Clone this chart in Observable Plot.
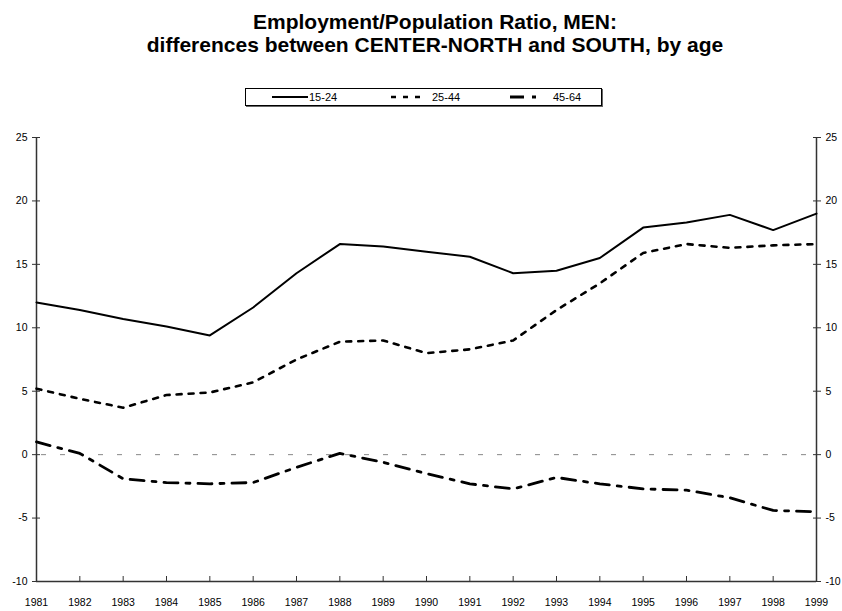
<!DOCTYPE html>
<html>
<head>
<meta charset="utf-8">
<script src="https://cdn.jsdelivr.net/npm/d3@7"></script>
<script src="https://cdn.jsdelivr.net/npm/@observablehq/plot@0.6"></script>
<style>
  body { margin: 0; background: #fff; font-family: "Liberation Sans", Arial, sans-serif; }
  #wrap { position: relative; width: 842px; height: 611px; overflow: hidden; }
  #title { position: absolute; top: 10px; left: 0; width: 870px; text-align: center;
           font-weight: bold; font-size: 21px; line-height: 23px; color: #000; }
  #legend { position: absolute; left: 245px; top: 88px; width: 355px; height: 16px;
            border: 1px solid #000; box-shadow: 1px 1px 0 #666; background: #fff; }
  .item { position: absolute; top: 0; height: 16px; display: flex; align-items: center;
          font-size: 11px; color: #000; }
  .item svg { display: block; }
  #chart { position: absolute; left: 0; top: 115px; }
</style>
</head>
<body>
<div id="wrap">
  <div id="title">Employment/Population Ratio, MEN:<br>differences between CENTER-NORTH and SOUTH, by age</div>
  <div id="legend"></div>
  <div id="chart"></div>
</div>
<script>
// Years on the horizontal axis
const years = [1981, 1982, 1983, 1984, 1985, 1986, 1987, 1988, 1989, 1990,
               1991, 1992, 1993, 1994, 1995, 1996, 1997, 1998, 1999];

// Employment/population ratio gap (Centre-North minus South), percentage points
const age15_24 = [12.0, 11.4, 10.7, 10.1, 9.4, 11.6, 14.3, 16.6, 16.4, 16.0,
                  15.6, 14.3, 14.5, 15.5, 17.9, 18.3, 18.9, 17.7, 19.0];
const age25_44 = [5.2, 4.4, 3.7, 4.7, 4.9, 5.7, 7.5, 8.9, 9.0, 8.0,
                  8.3, 9.0, 11.4, 13.5, 15.9, 16.6, 16.3, 16.5, 16.6];
const age45_64 = [1.0, 0.1, -1.9, -2.2, -2.3, -2.2, -1.0, 0.1, -0.6, -1.5,
                  -2.3, -2.7, -1.8, -2.3, -2.7, -2.8, -3.4, -4.4, -4.5];

const seriesNames = ["15-24", "25-44", "45-64"];
const yTicks = [-10, -5, 0, 5, 10, 15, 20, 25];

// Line styles for each age group
const styles = {
  "15-24": {strokeWidth: 2, dash: null},
  "25-44": {strokeWidth: 2.6, dash: "5,7"},
  "45-64": {strokeWidth: 2.8, dash: "14,8,4,8"}
};

const seriesValues = [age15_24, age25_44, age45_64];
const rows = seriesNames.flatMap((name, i) =>
  years.map((year, j) => ({year, value: seriesValues[i][j], group: name})));

// Legend
const legend = document.getElementById("legend");
const legendPos = [{left: 26, w: 36}, {left: 145, w: 30}, {left: 264, w: 32}];
seriesNames.forEach((name, i) => {
  const s = styles[name];
  const div = document.createElement("div");
  div.className = "item";
  div.style.left = legendPos[i].left + "px";
  const svg = d3.create("svg").attr("width", legendPos[i].w + 4).attr("height", 16);
  svg.append("line")
    .attr("x1", 0).attr("x2", legendPos[i].w).attr("y1", 8).attr("y2", 8)
    .attr("stroke", "#000").attr("stroke-width", s.strokeWidth)
    .attr("stroke-dasharray", s.dash);
  div.appendChild(svg.node());
  const span = document.createElement("span");
  span.textContent = name;
  span.style.marginLeft = (i === 0 ? -3 : 7) + "px";
  div.appendChild(span);
  legend.appendChild(div);
});

const chart = Plot.plot({
  width: 842,
  height: 496,
  marginTop: 22,
  marginBottom: 30,
  marginLeft: 36,
  marginRight: 26,
  style: {fontFamily: "'Liberation Sans', Arial, sans-serif", fontSize: "10.5px", color: "#000"},
  x: {domain: [1981, 1999]},
  y: {domain: [-10, 25]},
  marks: [
    // dashed zero reference line
    Plot.ruleY([0], {stroke: "#888", strokeWidth: 1, strokeDasharray: "5,14", strokeDashoffset: -5}),
    // axis lines
    Plot.ruleX([years[0], years[years.length - 1]], {stroke: "#333", strokeWidth: 1.5}),
    Plot.ruleY([yTicks[0]], {stroke: "#333", strokeWidth: 1.5}),
    // y axes, both sides
    Plot.axisY(yTicks, {anchor: "left", tickSize: 8, dx: 4, tickPadding: 5, stroke: "#333", label: null, tickFormat: d => d}),
    Plot.axisY(yTicks, {anchor: "right", tickSize: 8, dx: -4, tickPadding: 5, stroke: "#333", label: null, tickFormat: d => d}),
    // x axis: inward ticks and year labels below
    Plot.axisX(years, {anchor: "bottom", tickSize: 5, dy: -5, tickFormat: () => "", stroke: "#333", label: null}),
    Plot.axisX(years, {anchor: "bottom", tickSize: 0, tickPadding: 17, tickFormat: d => String(d), label: null}),
    // the three age-group series
    ...seriesNames.map(name => Plot.lineY(rows.filter(r => r.group === name), {
      x: "year", y: "value", stroke: "#000",
      strokeWidth: styles[name].strokeWidth,
      strokeDasharray: styles[name].dash,
      strokeLinejoin: "round"
    }))
  ]
});
document.getElementById("chart").appendChild(chart);
</script>
</body>
</html>
